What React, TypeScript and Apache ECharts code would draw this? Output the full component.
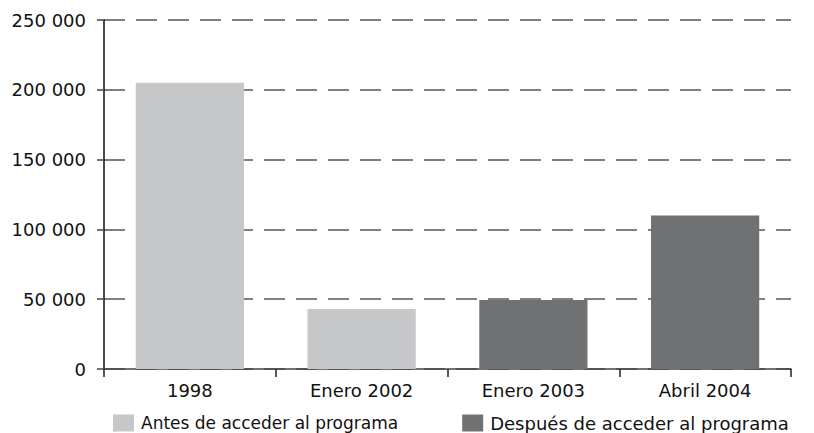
import React, { useEffect, useRef } from "react";
import * as echarts from "echarts";

const categories = ["1998", "Enero 2002", "Enero 2003", "Abril 2004"];
const seriesNames = ["Antes de acceder al programa", "Después de acceder al programa"];
const antesValues = [205000, 43000, null, null];
const despuesValues = [null, null, 49500, 110000];
const colors = ["#c6c7c9", "#707173"];

const fmt = (v: number) => String(v).replace(/\B(?=(\d{3})+(?!\d))/g, " ");

export default function App() {
  const ref = useRef<HTMLDivElement>(null);
  useEffect(() => {
    document.body.style.margin = "0";
    const chart = echarts.init(ref.current!, null, { renderer: "svg" });
    const font = "DejaVu Sans";
    chart.setOption({
      animation: false,
      backgroundColor: "#ffffff",
      grid: { left: 104, right: 23, top: 20, bottom: 64, containLabel: false },
      legend: {
        left: 108,
        top: 409,
        itemWidth: 21,
        itemHeight: 17,
        itemGap: 64,
        icon: "rect",
        textStyle: { fontFamily: font, fontSize: 17, lineHeight: 18, color: "#111", padding: [0, 0, 0, 2] },
        data: [
          { name: seriesNames[0] },
          { name: seriesNames[1], textStyle: { fontFamily: font, fontSize: 18, lineHeight: 18, color: "#111", padding: [0, 0, 0, 2] } },
        ],
      },
      xAxis: {
        type: "category",
        data: categories,
        axisLine: { show: true, lineStyle: { color: "#444", width: 1.5 } },
        axisTick: { show: true, length: 8, lineStyle: { color: "#222", width: 1.5 } },
        axisLabel: { fontFamily: font, fontSize: 18, color: "#111", margin: 12 },
      },
      yAxis: {
        type: "value",
        min: 0,
        max: 250000,
        interval: 50000,
        axisLine: { show: true, lineStyle: { color: "#111", width: 1.5 } },
        axisTick: { show: true, length: 7, lineStyle: { color: "#444", width: 1.5 } },
        axisLabel: {
          fontFamily: font,
          fontSize: 18,
          color: "#111",
          margin: 18,
          formatter: (v: number) => fmt(v),
        },
        splitLine: {
          show: true,
          lineStyle: { color: "#555", width: 1.5, type: [21, 11] },
        },
      },
      series: [
        {
          name: seriesNames[0],
          type: "bar",
          stack: "total",
          data: antesValues,
          itemStyle: { color: colors[0] },
          barCategoryGap: "37%",
        },
        {
          name: seriesNames[1],
          type: "bar",
          stack: "total",
          data: despuesValues,
          itemStyle: { color: colors[1] },
          barCategoryGap: "37%",
        },
      ],
    });
    return () => chart.dispose();
  }, []);
  return <div ref={ref} style={{ width: 814, height: 433 }} />;
}
